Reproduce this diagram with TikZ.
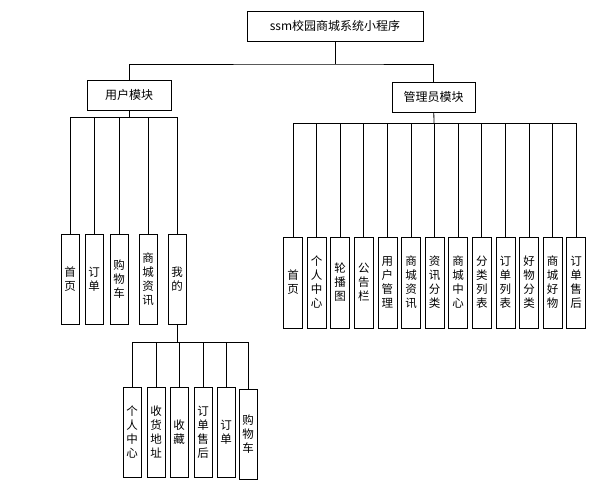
\documentclass[tikz,border=0pt]{standalone}
\usepackage{fontspec}
\setmainfont{Noto Sans CJK SC}

\begin{document}
\begin{tikzpicture}[x=1pt,y=-1pt,
    box/.style={draw, line width=0.8pt, minimum height=30pt, inner sep=0pt, font=\fontsize{12}{14}\selectfont},
    leaf/.style={draw, line width=0.8pt, minimum width=18pt, minimum height=90pt, inner sep=0pt, align=center, font=\fontsize{11.5}{14}\selectfont},
    link/.style={line width=0.8pt}]
      \useasboundingbox (0,0) rectangle (600,495);

      % Root and the two modules
      \node[box, minimum width=176pt] (root) at (335,26) {ssm校园商城系统小程序};
      \node[box, minimum width=84pt] (user) at (129,95) {用户模块};
      \node[box, minimum width=83pt] (admin) at (433.5,97) {管理员模块};
      \coordinate (split) at (335,64);
      \draw[link] (root) -- (split);
      \draw[link] (user.north) |- (split) -| (admin.north);

      % User module pages
      \coordinate (ubus) at (129,117);
      \draw[link] (user) -- (ubus);
      \foreach \x/\t [count=\i] in {70/{首\\页}, 94/{订\\单}, 119/{购\\物\\车}, 148/{商\\城\\资\\讯}, 177/{我\\的}} {
          \node[leaf] (u\i) at (\x,279) {\t};
          \draw[link] (ubus) -| (u\i.north);
      }

      % Pages under "我的"
      \coordinate (mbus) at (177,342);
      \draw[link] (u5) -- (mbus);
      \foreach \x/\y/\t [count=\i] in {132/432/{个\\人\\中\\心}, 156/432/{收\\货\\地\\址}, 179/432/{收\\藏}, 203/432/{订\\单\\售\\后}, 226/432/{订\\单}, 248/434/{购\\物\\车}} {
          \node[leaf] (m\i) at (\x,\y) {\t};
          \draw[link] (mbus) -| (m\i.north);
      }

      % Admin module pages
      \coordinate (abus) at (434,123);
      \draw[link] (admin) -- (abus);
      \foreach \t [count=\i] in {{首\\页}, {个\\人\\中\\心}, {轮\\播\\图}, {公\\告\\栏}, {用\\户\\管\\理}, {商\\城\\资\\讯}, {资\\讯\\分\\类}, {商\\城\\中\\心}, {分\\类\\列\\表}, {订\\单\\列\\表}, {好\\物\\分\\类}, {商\\城\\好\\物}, {订\\单\\售\\后}} {
          \node[leaf, minimum width=19pt, minimum height=91pt] (a\i) at ({293+23.6*(\i-1)},282.5) {\t};
          \draw[link] (abus) -| (a\i.north);
      }
    \end{tikzpicture}
\end{document}
